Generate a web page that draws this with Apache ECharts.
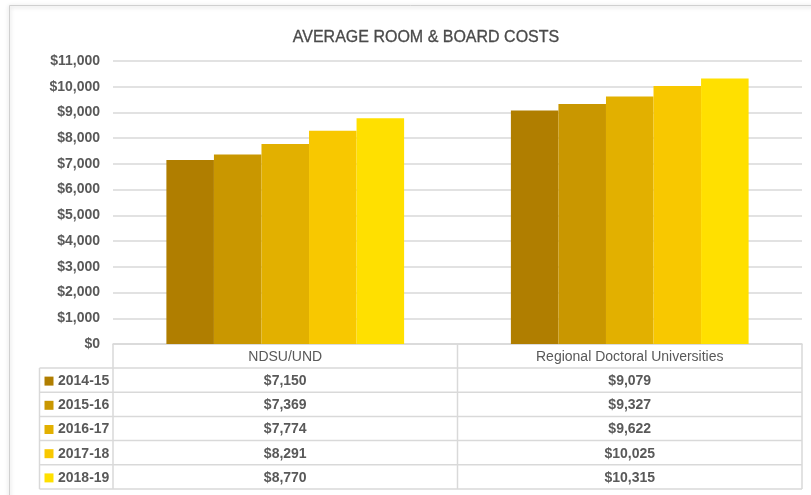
<!DOCTYPE html>
<html><head><meta charset="utf-8">
<script src="https://cdn.jsdelivr.net/npm/echarts@6/dist/echarts.min.js"></script>
<style>html,body{margin:0;padding:0;background:#fff;}#c{width:811px;height:495px;}</style>
</head><body><div id="c"></div>
<script>
const categories = ['NDSU/UND', 'Regional Doctoral Universities'];
const years = ['2014-15', '2015-16', '2016-17', '2017-18', '2018-19'];
const cost2014 = [7150, 9079];
const cost2015 = [7369, 9327];
const cost2016 = [7774, 9622];
const cost2017 = [8291, 10025];
const cost2018 = [8770, 10315];
const yTicks = [0, 1000, 2000, 3000, 4000, 5000, 6000, 7000, 8000, 9000, 10000, 11000];
const seriesValues = [cost2014, cost2015, cost2016, cost2017, cost2018];
const colors = ['#B07E00', '#C99700', '#E2B000', '#F8C800', '#FFE000'];

const FONT = 'Liberation Sans';
const TXT = '#595959';
const LINE = '#D9D9D9';
const G = {left: 113, right: 9, top: 61, bottom: 151};
const W = 811, H = 495;
const plotL = G.left, plotR = W - G.right, plotB = H - G.bottom;
const hdrBottom = 368, rowH = 24.2, legL = 39.5;

function fmt(v){ return '$' + v.toLocaleString('en-US'); }

const chart = echarts.init(document.getElementById('c'), null, {renderer: 'canvas'});
const series = years.map((y, i) => ({
  name: y, type: 'bar', data: seriesValues[i], barGap: '0%', barCategoryGap: '31%',
  itemStyle: {color: colors[i]}, silent: true
}));

chart.setOption({
  animation: false,
  backgroundColor: '#fff',
  title: {text: 'AVERAGE ROOM & BOARD COSTS', left: 421, top: 25, textAlign: 'center',
    textStyle: {fontFamily: FONT, fontSize: 16, fontWeight: 'normal', color: '#4a4a4a',
      textBorderColor: '#4a4a4a', textBorderWidth: 0.3}},
  grid: {left: G.left, right: G.right, top: G.top, bottom: G.bottom, containLabel: false},
  xAxis: {type: 'category', data: categories, axisTick: {show: false}, axisLabel: {show: false},
    axisLine: {show: true, lineStyle: {color: LINE, width: 1.5}}},
  yAxis: {type: 'value', min: yTicks[0], max: yTicks[yTicks.length - 1], interval: 1000,
    axisLine: {show: false}, axisTick: {show: false},
    splitLine: {lineStyle: {color: LINE, width: 1.5}},
    axisLabel: {margin: 13, fontFamily: FONT, fontSize: 14, fontWeight: 'bold', color: TXT,
      formatter: v => fmt(v)}},
  series: series
});

// Data table drawn below the axis using category boundaries from the grid
const colW = (plotR - plotL) / categories.length;
const g = [];
g.push({type: 'rect', shape: {x: 9.5, y: 5.5, width: 820, height: 520},
  style: {fill: 'none', stroke: '#D0D0D0', lineWidth: 1, shadowBlur: 4, shadowColor: 'rgba(0,0,0,0.25)', shadowOffsetY: 1}, z: -10});
const rowsBottom = hdrBottom + rowH * years.length;
for (let c = 0; c <= categories.length; c++) {
  const x = plotL + c * colW;
  g.push({type: 'line', shape: {x1: x, y1: plotB, x2: x, y2: rowsBottom}, style: {stroke: LINE, lineWidth: 1.5}});
}
g.push({type: 'line', shape: {x1: legL, y1: hdrBottom, x2: legL, y2: rowsBottom}, style: {stroke: LINE, lineWidth: 1.5}});
for (let r = 0; r <= years.length; r++) {
  const y = hdrBottom + r * rowH;
  g.push({type: 'line', shape: {x1: legL, y1: y, x2: plotR, y2: y}, style: {stroke: LINE, lineWidth: 1.5}});
}
categories.forEach((c, i) => {
  g.push({type: 'text', x: plotL + (i + 0.5) * colW, y: (plotB + hdrBottom) / 2 + 1,
    style: {text: c, fontFamily: FONT, fontSize: 14, fill: TXT, align: 'center', verticalAlign: 'middle'}});
});
years.forEach((y, r) => {
  const cy = hdrBottom + (r + 0.5) * rowH + 1;
  g.push({type: 'rect', shape: {x: 44.5, y: cy - 4.5, width: 9, height: 9}, style: {fill: colors[r]}});
  g.push({type: 'text', x: 58, y: cy, style: {text: y, fontFamily: FONT, fontSize: 14, fontWeight: 'bold', fill: TXT, align: 'left', verticalAlign: 'middle'}});
  categories.forEach((c, i) => {
    g.push({type: 'text', x: plotL + (i + 0.5) * colW, y: cy,
      style: {text: fmt(seriesValues[r][i]), fontFamily: FONT, fontSize: 14, fontWeight: 'bold', fill: TXT, align: 'center', verticalAlign: 'middle'}});
  });
});
chart.setOption({graphic: {elements: g}});
</script></body></html>
